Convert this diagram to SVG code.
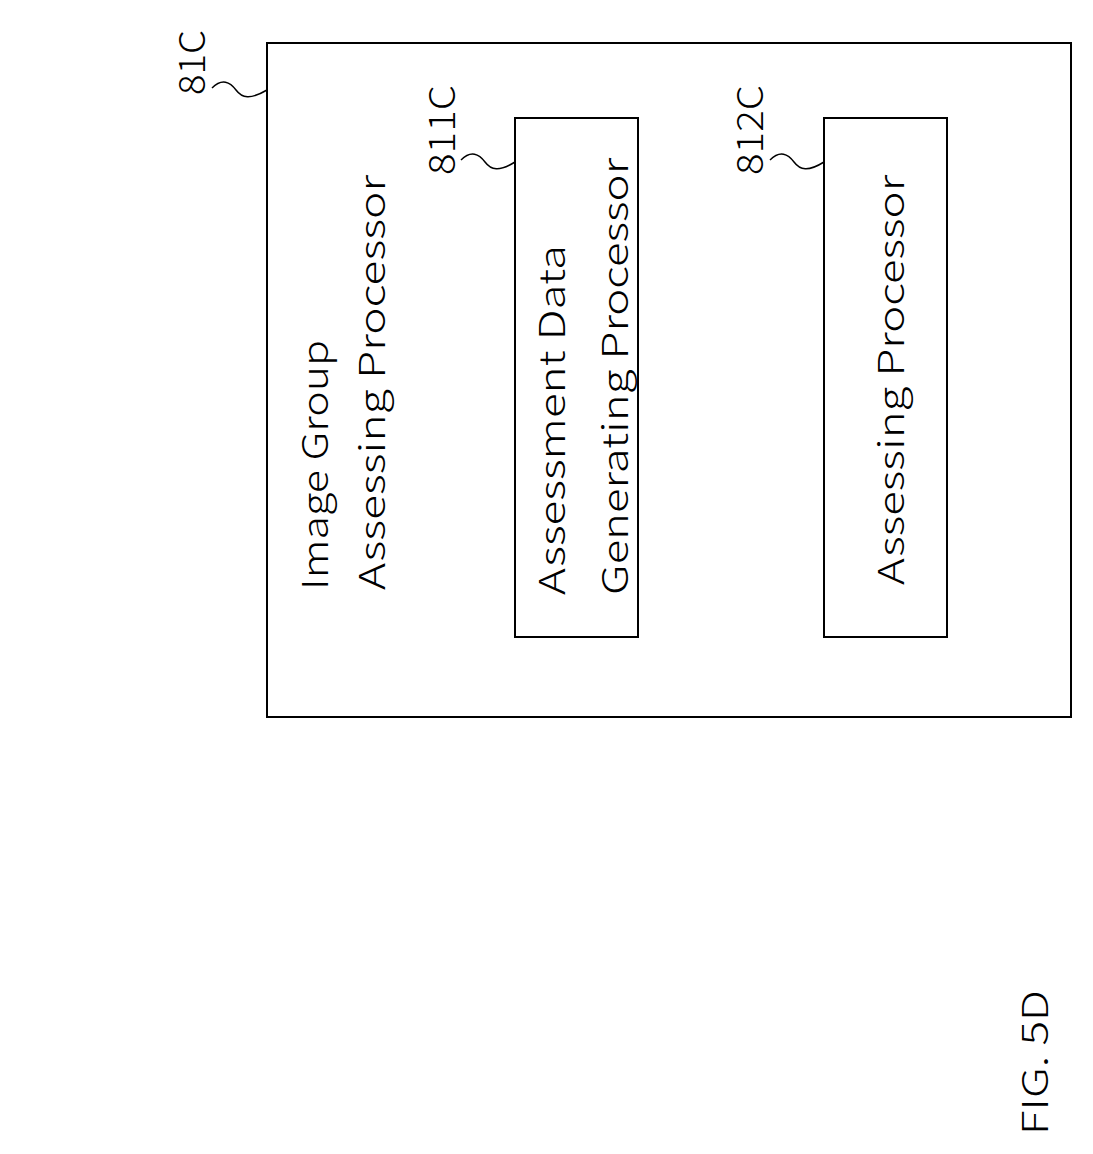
<svg xmlns="http://www.w3.org/2000/svg" width="1093" height="1154" viewBox="0 0 1093 1154">
<style>
text{font-family:"Noto Sans CJK JP","Liberation Sans",sans-serif;font-size:36px;font-weight:300;fill:#000}
.b{fill:#fff;stroke:#000;stroke-width:2}
.s{fill:none;stroke:#000;stroke-width:1.5}
</style>
<rect width="1093" height="1154" fill="#fff"/>
<g id="n81C">
<rect class="b" x="267" y="43" width="804" height="674"/>
<text transform="translate(328,590) rotate(-90)" textLength="250" lengthAdjust="spacingAndGlyphs">Image Group</text>
<text transform="translate(385,590) rotate(-90)" textLength="415" lengthAdjust="spacingAndGlyphs">Assessing Processor</text>
<text transform="translate(205,95) rotate(-90)" textLength="65" lengthAdjust="spacingAndGlyphs">81C</text>
</g>
<g id="n811C">
<rect class="b" x="515" y="118" width="123" height="519"/>
<text transform="translate(565,595) rotate(-90)" textLength="350" lengthAdjust="spacingAndGlyphs">Assessment Data</text>
<text transform="translate(628,595) rotate(-90)" textLength="437" lengthAdjust="spacingAndGlyphs">Generating Processor</text>
<text transform="translate(455,175) rotate(-90)" textLength="90" lengthAdjust="spacingAndGlyphs">811C</text>
</g>
<g id="n812C">
<rect class="b" x="824" y="118" width="123" height="519"/>
<text transform="translate(904,585) rotate(-90)" textLength="410" lengthAdjust="spacingAndGlyphs">Assessing Processor</text>
<text transform="translate(763,175) rotate(-90)" textLength="90" lengthAdjust="spacingAndGlyphs">812C</text>
</g>
<g id="connectors">
<path class="s" d="M212,88 C222,78 230,82 236,90 C242,98 250,100 267,90"/>
<path class="s" d="M461,160 C471,150 479,154 485,162 C491,170 499,172 515,162"/>
<path class="s" d="M770,160 C780,150 788,154 794,162 C800,170 808,172 824,162"/>
</g>
<text transform="translate(1048,1135) rotate(-90)" textLength="145" lengthAdjust="spacingAndGlyphs">FIG. 5D</text>
</svg>
